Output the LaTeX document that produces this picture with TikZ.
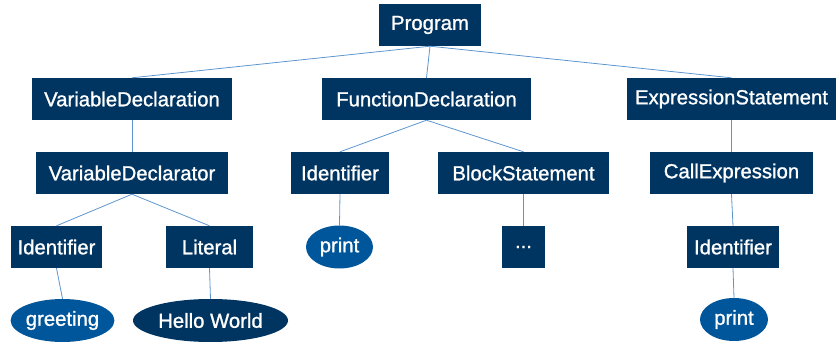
\documentclass[tikz,border=0pt]{standalone}
\usepackage{fontspec}
\setmainfont{Liberation Sans}
\newfontfamily\lblfont[FakeBold=1.1]{Liberation Sans}
\usetikzlibrary{shapes.geometric}
\definecolor{navy}{HTML}{003461}
\definecolor{leaf}{HTML}{00569A}
\definecolor{edge}{HTML}{5D96CF}
\tikzset{
  box/.style={rectangle, fill=navy, text=white, inner sep=0pt, font=\lblfont\fontsize{20.3}{23}\selectfont, minimum height=42pt},
  leafnode/.style={ellipse, fill=leaf, text=white, inner sep=0pt, font=\lblfont\fontsize{20.3}{23}\selectfont, minimum height=43pt},
  darkleaf/.style={leafnode, fill=navy},
  conn/.style={draw=edge, line width=0.8pt}
}
\begin{document}
\begin{tikzpicture}[x=1pt,y=-1pt]
\useasboundingbox (0,0) rectangle (839,342);
\node[box, minimum width=102pt] (prog) at (430,25) {Program};
\node[box, minimum width=200pt] (vdecl) at (132,99) {VariableDeclaration};
\node[box, minimum width=209pt] (fdecl) at (426.5,99) {FunctionDeclaration};
\node[box, minimum width=209pt] (estmt) at (731.5,99) {ExpressionStatement};
\node[box, minimum width=192pt] (vdtor) at (132,173) {VariableDeclarator};
\node[box, minimum width=98pt] (fid) at (340,173) {Identifier};
\node[box, minimum width=171pt] (block) at (523.5,173) {BlockStatement};
\node[box, minimum width=163pt] (call) at (731.5,173) {CallExpression};
\node[box, minimum width=91pt] (lid) at (56.5,247) {Identifier};
\node[box, minimum width=87pt] (lit) at (209.5,247) {Literal};
\node[leafnode, minimum width=67pt] (fprint) at (339.5,247) {print};
\node[box, minimum width=43pt] (dots) at (523.5,247) {...};
\node[box, minimum width=92pt] (cid) at (733,247) {Identifier};
\node[leafnode, minimum width=101pt] (greet) at (62.5,320.5) {greeting};
\node[darkleaf, minimum width=155pt] (hello) at (210.5,320.5) {Hello World};
\node[leafnode, minimum width=68pt] (cprint) at (734,319.5) {print};
\draw[conn] (prog.south) -- (vdecl.north);
\draw[conn] (prog.south) -- (fdecl.north);
\draw[conn] (prog.south) -- (estmt.north);
\draw[conn] (vdecl.south) -- (vdtor.north);
\draw[conn] (fdecl.south) -- (fid.north);
\draw[conn] (fdecl.south) -- (block.north);
\draw[conn] (estmt.south) -- (call.north);
\draw[conn] (vdtor.south) -- (lid.north);
\draw[conn] (vdtor.south) -- (lit.north);
\draw[conn] (fid.south) -- (fprint.north);
\draw[conn] (block.south) -- (dots.north);
\draw[conn] (call.south) -- (cid.north);
\draw[conn] (lid.south) -- (greet.north);
\draw[conn] (lit.south) -- (hello.north);
\draw[conn] (cid.south) -- (cprint.north);
\end{tikzpicture}
\end{document}
